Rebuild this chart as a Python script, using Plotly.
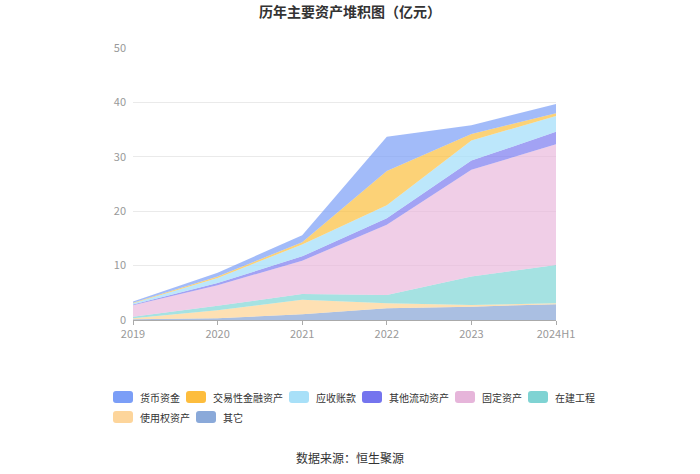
import re
import plotly.graph_objects as go

years = ["2019", "2020", "2021", "2022", "2023", "2024H1"]

# bottom to top
other = [0.15, 0.3, 1.05, 2.15, 2.45, 2.9]            # 其它
right_of_use = [0.15, 1.5, 2.65, 0.95, 0.3, 0.2]       # 使用权资产
construction = [0.3, 0.8, 1.1, 1.5, 5.25, 7.0]         # 在建工程
fixed_assets = [2.1, 3.8, 6.1, 12.9, 19.6, 22.2]       # 固定资产
other_current = [0.15, 0.4, 0.8, 1.2, 1.7, 2.3]        # 其他流动资产
receivables = [0.25, 0.9, 2.2, 2.4, 3.7, 2.9]          # 应收账款
trading_fin = [0.05, 0.3, 0.4, 6.3, 1.2, 0.5]          # 交易性金融资产
cash = [0.25, 0.7, 1.3, 6.3, 1.6, 1.7]                 # 货币资金

# name, values, area fill, legend colour
series = [
    ("其它", other, "rgba(142,169,216,0.75)", "#8aa9d9"),
    ("使用权资产", right_of_use, "rgba(253,214,154,0.75)", "#fdd59b"),
    ("在建工程", construction, "rgba(127,214,214,0.7)", "#7fd3d3"),
    ("固定资产", fixed_assets, "rgba(232,180,218,0.65)", "#e6b5da"),
    ("其他流动资产", other_current, "rgba(122,122,240,0.7)", "#7474ee"),
    ("应收账款", receivables, "rgba(165,223,249,0.75)", "#a8e0f8"),
    ("交易性金融资产", trading_fin, "rgba(251,191,61,0.7)", "#fdbd3d"),
    ("货币资金", cash, "rgba(123,158,247,0.7)", "#7b9ef7"),
]
legend_rows = [["货币资金", "交易性金融资产", "应收账款", "其他流动资产", "固定资产", "在建工程"],
               ["使用权资产", "其它"]]

font_family = "Noto Sans CJK SC, Noto Sans, sans-serif"
W, H = 700, 474
ML, MR, MT, MB = 133, 144, 48, 154

fig = go.Figure()
for name, vals, color, _ in series:
    fig.add_trace(go.Scatter(
        x=years, y=vals, name=name, mode="lines",
        stackgroup="one", fillcolor=color,
        line=dict(width=0, color=color),
        showlegend=False,
        hoverinfo="x+y+name",
    ))

# custom legend (paper coords)
pw, ph = W - ML - MR, H - MT - MB
def px_x(x):
    return (x - ML) / pw
def px_y(y):
    return (H - MB - y) / ph

def conv(m):
    a, b = float(m.group(1)), float(m.group(2))
    return f"{px_x(a):.5f},{px_y(b):.5f}"

legend_color = {s[0]: s[3] for s in series}
shapes, annotations = [], []
row_y = [397, 417]
for r, row in enumerate(legend_rows):
    x = 113
    yc = row_y[r]
    for name in row:
        x0, x1, y0, y1 = x, x + 20, yc - 6, yc + 6
        rr = 3
        path = (f"M {x0+rr},{y0} L {x1-rr},{y0} Q {x1},{y0} {x1},{y0+rr} "
                f"L {x1},{y1-rr} Q {x1},{y1} {x1-rr},{y1} L {x0+rr},{y1} "
                f"Q {x0},{y1} {x0},{y1-rr} L {x0},{y0+rr} Q {x0},{y0} {x0+rr},{y0} Z")
        path = re.sub(r"([\d.]+),([\d.]+)", conv, path)
        shapes.append(dict(type="path", xref="paper", yref="paper", path=path,
                           fillcolor=legend_color[name], line=dict(width=0)))
        annotations.append(dict(text=name, x=px_x(x + 25), y=px_y(yc), xref="paper", yref="paper",
                                xanchor="left", yanchor="middle", showarrow=False,
                                font=dict(size=10, color="#333")))
        x += 33 + 10 * len(name)

annotations.append(dict(text="数据来源：恒生聚源", x=px_x(W / 2), xref="paper",
                        xanchor="center", y=px_y(457), yref="paper", yanchor="middle",
                        showarrow=False, font=dict(size=12, color="#333")))

fig.update_layout(
    width=W, height=H,
    margin=dict(l=ML, r=MR, t=MT, b=MB),
    paper_bgcolor="white", plot_bgcolor="white",
    font=dict(family=font_family, size=11, color="#333"),
    title=dict(text="<b>历年主要资产堆积图（亿元）</b>", x=0.5, xanchor="center",
               y=1 - 12 / H, yanchor="middle", font=dict(size=14, color="#333")),
    showlegend=False,
    shapes=shapes,
    annotations=annotations,
)

fig.update_xaxes(type="category", range=[0, 5], showgrid=False,
                 showline=True, linecolor="#aaa", linewidth=1,
                 ticks="outside", ticklen=4, tickcolor="#aaa",
                 tickfont=dict(size=11, color="#999"))
fig.update_yaxes(range=[0, 50], dtick=10, showgrid=True, gridcolor="#eaeaea",
                 zeroline=False, showline=False, ticklabelstandoff=6,
                 tickfont=dict(size=11, color="#999"))

fig.write_html("out.html", config={"displayModeBar": False},
               post_script="document.body.style.margin='0';")
